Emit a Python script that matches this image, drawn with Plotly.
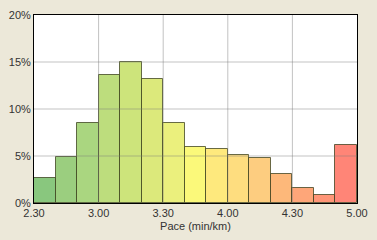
import plotly.graph_objects as go

# Pace bins (start of each 10-second bin, min:sec)
bin_starts = ["2:30", "2:40", "2:50", "3:00", "3:10", "3:20", "3:30", "3:40",
              "3:50", "4:00", "4:10", "4:20", "4:30", "4:40", "4:50"]
bin_width_sec = 10
share_pct = [2.7, 4.9, 8.5, 13.6, 15.0, 13.2, 8.5, 6.0, 5.7, 5.1, 4.8, 3.1, 1.55, 0.8, 6.2]
bar_colors = ["#89c77e", "#9bce7f", "#aad680", "#bddd7d", "#cde47b", "#dce97b",
              "#ebf07d", "#fbf97a", "#fee97d", "#fedd7f", "#fdcd80", "#fdb87a",
              "#fea679", "#ff9577", "#ff8577"]
x_tick_vals_label = ["2.30", "3.00", "3.30", "4.00", "4.30", "5.00"]
y_tick_vals = [0, 5, 10, 15, 20]
y_tick_text = ["0%", "5%", "10%", "15%", "20%"]


def to_min(s):
    m, sec = s.replace(".", ":").split(":")
    return int(m) + int(sec) / 60.0


x_centers = [to_min(s) + bin_width_sec / 120.0 for s in bin_starts]
x_tick_vals = [to_min(s) for s in x_tick_vals_label]

fig = go.Figure()
fig.add_trace(go.Bar(
    x=x_centers, y=share_pct, width=bin_width_sec / 60.0,
    marker=dict(color=bar_colors, line=dict(color="rgba(55,60,25,0.75)", width=1)),
    hoverinfo="skip",
))

shapes = []
for yv in y_tick_vals[1:-1]:
    shapes.append(dict(type="line", xref="paper", yref="y", x0=0, x1=1, y0=yv, y1=yv,
                       line=dict(color="rgba(120,120,120,0.45)", width=1), layer="above"))
for xv in x_tick_vals[1:-1]:
    shapes.append(dict(type="line", xref="x", yref="paper", x0=xv, x1=xv, y0=0, y1=1,
                       line=dict(color="rgba(120,120,120,0.45)", width=1), layer="above"))

fig.update_layout(
    width=377, height=240,
    margin=dict(l=32, r=19, t=9, b=31),
    paper_bgcolor="#ece8d9",
    plot_bgcolor="#ffffff",
    showlegend=False,
    bargap=0,
    shapes=shapes,
    font=dict(family="Liberation Sans, Arial, sans-serif", size=11, color="#333333"),
    xaxis=dict(
        range=[x_tick_vals[0], x_tick_vals[-1]],
        tickvals=x_tick_vals, ticktext=x_tick_vals_label,
        showgrid=False, zeroline=False,
        showline=True, mirror=True, linecolor="#000000", linewidth=1,
        ticks="", ticklen=0,
        title=dict(text="Pace (min/km)", standoff=4, font=dict(size=11)),
        tickfont=dict(size=11),
    ),
    yaxis=dict(
        range=[0, 20],
        tickvals=y_tick_vals, ticktext=y_tick_text,
        showgrid=False, zeroline=False,
        showline=True, mirror=True, linecolor="#000000", linewidth=1,
        ticks="", ticklen=0,
        tickfont=dict(size=11),
    ),
)

fig.write_html("out.html")
